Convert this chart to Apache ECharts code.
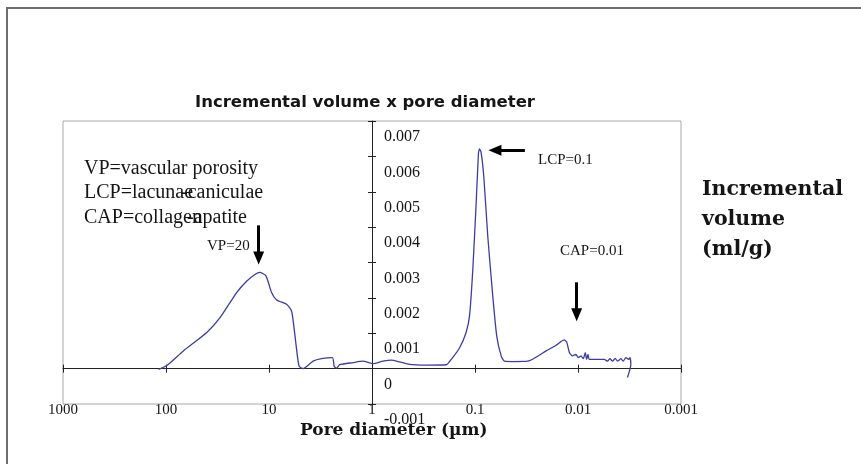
<!DOCTYPE html>
<html>
<head>
<meta charset="utf-8">
<script src="https://cdn.jsdelivr.net/npm/echarts@6/dist/echarts.min.js"></script>
<style>
html, body { margin: 0; padding: 0; background: #fff; }
#chart { width: 861px; height: 464px; }
</style>
</head>
<body>
<div id="chart"></div>
<script>
// pore diameter (um), read along the curve from the large pores to the small ones
const diameters = [118, 98.2, 67.8, 40.2, 29.9, 20.6, 16.5, 13.7, 12.3, 10.7,
  9.44, 8.44, 6.75, 6.04, 5.74, 5.40, 5.10, 4.66, 4.32, 3.73,
  3.09, 2.42, 2.33, 2.21, 2.06, 1.53, 1.22, 0.978, 0.782, 0.649,
  0.539, 0.431, 0.297, 0.190, 0.170, 0.141, 0.122, 0.113, 0.105, 0.0974,
  0.0925, 0.0904, 0.0871, 0.0822, 0.0752, 0.0672, 0.0615, 0.0557, 0.0518, 0.0430,
  0.0308, 0.0204, 0.0163, 0.0136, 0.0129, 0.0121, 0.0113, 0.0105, 0.00987, 0.00935,
  0.00888, 0.0085, 0.00825, 0.008, 0.00777, 0.00695, 0.00556, 0.00517, 0.0049, 0.00462,
  0.00435, 0.00413, 0.00383, 0.00364, 0.00343, 0.00323, 0.00313, 0.00307, 0.00331]

// incremental volume (ml/g)
const volumes = [-0.00002, 0.00009, 0.0005, 0.00102, 0.00144, 0.00215, 0.00247, 0.00266, 0.00272, 0.00262,
  0.00215, 0.00194, 0.00182, 0.00163, 0.0012, 0.00055, 0.00007, 0, 0.00006, 0.00021,
  0.00028, 0.00031, 0.00007, 0.00001, 0.00011, 0.00017, 0.00021, 0.00014, 0.00021, 0.00024,
  0.00019, 0.00012, 0.0001, 0.00011, 0.00026, 0.00059, 0.00102, 0.00149, 0.00281, 0.00469,
  0.0061, 0.00621, 0.0061, 0.00544, 0.00375, 0.00205, 0.00092, 0.00036, 0.00021, 0.0002,
  0.00021, 0.0005, 0.00066, 0.00081, 0.00076, 0.00045, 0.00036, 0.0004, 0.00031, 0.00036,
  0.00028, 0.00045, 0.00026, 0.0004, 0.00026, 0.00026, 0.00026, 0.00021, 0.00028, 0.00021,
  0.00029, 0.00021, 0.00028, 0.00021, 0.00031, 0.00026, 0.00031, 0.00012, -0.00025]

// arrows [start, end] in data coords
const arrowVP = [[12.6, 0.00405], [12.6, 0.00313]]
const arrowLCP = [[0.0328, 0.00617], [0.064, 0.00617]]
const arrowCAP = [[0.0103, 0.00244], [0.0103, 0.00152]]

const xMin = 0.001
const xMax = 1000
const yMin = -0.001
const yMax = 0.007
const yStep = 0.001

const serif = '"Liberation Serif", "Times New Roman", serif'
const boldSerif = '"DejaVu Serif", serif'
const ink = '#151515'

const chart = echarts.init(document.getElementById('chart'))

function logAxis(extra) {
  return Object.assign({
    type: 'log',
    logBase: 10,
    min: xMin,
    max: xMax,
    inverse: true,
    splitLine: { show: false },
    axisLabel: { show: false }
  }, extra)
}

function valueAxis(extra) {
  return Object.assign({
    type: 'value',
    position: 'left',
    min: yMin,
    max: yMax,
    interval: yStep,
    splitLine: { show: false },
    axisLabel: { show: false }
  }, extra)
}

function arrowLine(pair) {
  return [{ coord: pair[0] }, { coord: pair[1] }]
}

function label(text, x, y, font) {
  return {
    type: 'text',
    x: x,
    y: y,
    silent: true,
    style: {
      text: text,
      font: font,
      fill: ink,
      verticalAlign: 'middle'
    }
  }
}

let option = {
  animation: false,
  title: {
    text: 'Incremental volume x pore diameter',
    left: 195,
    top: 94,
    padding: 0,
    textStyle: {
      fontFamily: '"DejaVu Sans", sans-serif',
      fontWeight: 'bold',
      fontSize: 16.5,
      color: ink
    }
  },
  grid: {
    left: 63,
    right: 180,
    top: 121,
    bottom: 60,
    show: true,
    borderColor: '#a8a8a8',
    borderWidth: 1
  },
  xAxis: [
    logAxis({
      position: 'bottom',
      axisLine: { onZero: true, lineStyle: { color: '#222', width: 1 } },
      axisTick: { length: 4, lineStyle: { color: '#222' } }
    }),
    logAxis({
      position: 'bottom',
      axisLine: { show: false, onZero: true },
      axisTick: { inside: true, length: 4, lineStyle: { color: '#222' } }
    }),
    logAxis({
      position: 'bottom',
      axisLine: { show: false, onZero: false },
      axisTick: { show: false },
      axisLabel: {
        show: true,
        margin: -1,
        showMinLabel: true,
        showMaxLabel: true,
        formatter: v => String(v),
        fontFamily: serif,
        fontSize: 15,
        color: ink
      }
    })
  ],
  yAxis: [
    valueAxis({
      axisLine: { show: true, onZero: false, lineStyle: { color: '#222', width: 1 } },
      axisTick: { show: true, length: 4, lineStyle: { color: '#222' } },
      axisLabel: {
        show: true,
        inside: true,
        margin: 12,
        verticalAlign: 'top',
        lineHeight: 32,
        fontFamily: serif,
        fontSize: 16,
        color: ink
      }
    }),
    valueAxis({
      axisLine: { show: false, onZero: false },
      axisTick: { show: true, inside: true, length: 4, lineStyle: { color: '#222' } }
    })
  ],
  series: [
    {
      type: 'line',
      xAxisIndex: 0,
      yAxisIndex: 0,
      data: diameters.map((d, i) => [d, volumes[i]]),
      showSymbol: false,
      smooth: 0.2,
      lineStyle: { color: '#3c3ca6', width: 1.3 },
      markLine: {
        silent: true,
        symbol: ['none', 'triangle'],
        symbolSize: [11, 13],
        label: { show: false },
        lineStyle: { color: '#000', width: 3, type: 'solid' },
        data: [arrowLine(arrowVP), arrowLine(arrowLCP), arrowLine(arrowCAP)]
      }
    }
  ],
  graphic: [
    {
      type: 'rect',
      silent: true,
      shape: { x: 7, y: 8, width: 900, height: 500 },
      style: { fill: 'none', stroke: '#6e6e6e', lineWidth: 2 }
    },
    label('VP=vascular porosity', 84, 168.5, '20px ' + serif),
    label('LCP=lacunae', 84, 193, '20px ' + serif),
    label('-caniculae', 181, 193, '20px ' + serif),
    label('CAP=collagen', 84, 217.5, '20px ' + serif),
    label('-apatite', 187, 217.5, '20px ' + serif),
    label('VP=20', 207, 246, '15px ' + serif),
    label('LCP=0.1', 538, 160, '15px ' + serif),
    label('CAP=0.01', 560, 251, '15px ' + serif),
    label('Pore diameter (\u00b5m)', 300, 431, 'bold 17px ' + boldSerif),
    {
      type: 'text',
      x: 702,
      y: 175,
      silent: true,
      style: {
        text: 'Incremental\nvolume\n(ml/g)',
        font: 'bold 20.5px ' + boldSerif,
        lineHeight: 30,
        fill: ink,
        verticalAlign: 'top'
      }
    }
  ]
}

chart.setOption(option)

// put the vertical axis where the diameter is 1 um
const gridLeft = option.grid.left
const yAxisX = chart.convertToPixel({ xAxisIndex: 0 }, 1)
const shift = -(yAxisX - gridLeft)
chart.setOption({ yAxis: [{ offset: shift }, { offset: shift }] })
</script>
</body>
</html>
